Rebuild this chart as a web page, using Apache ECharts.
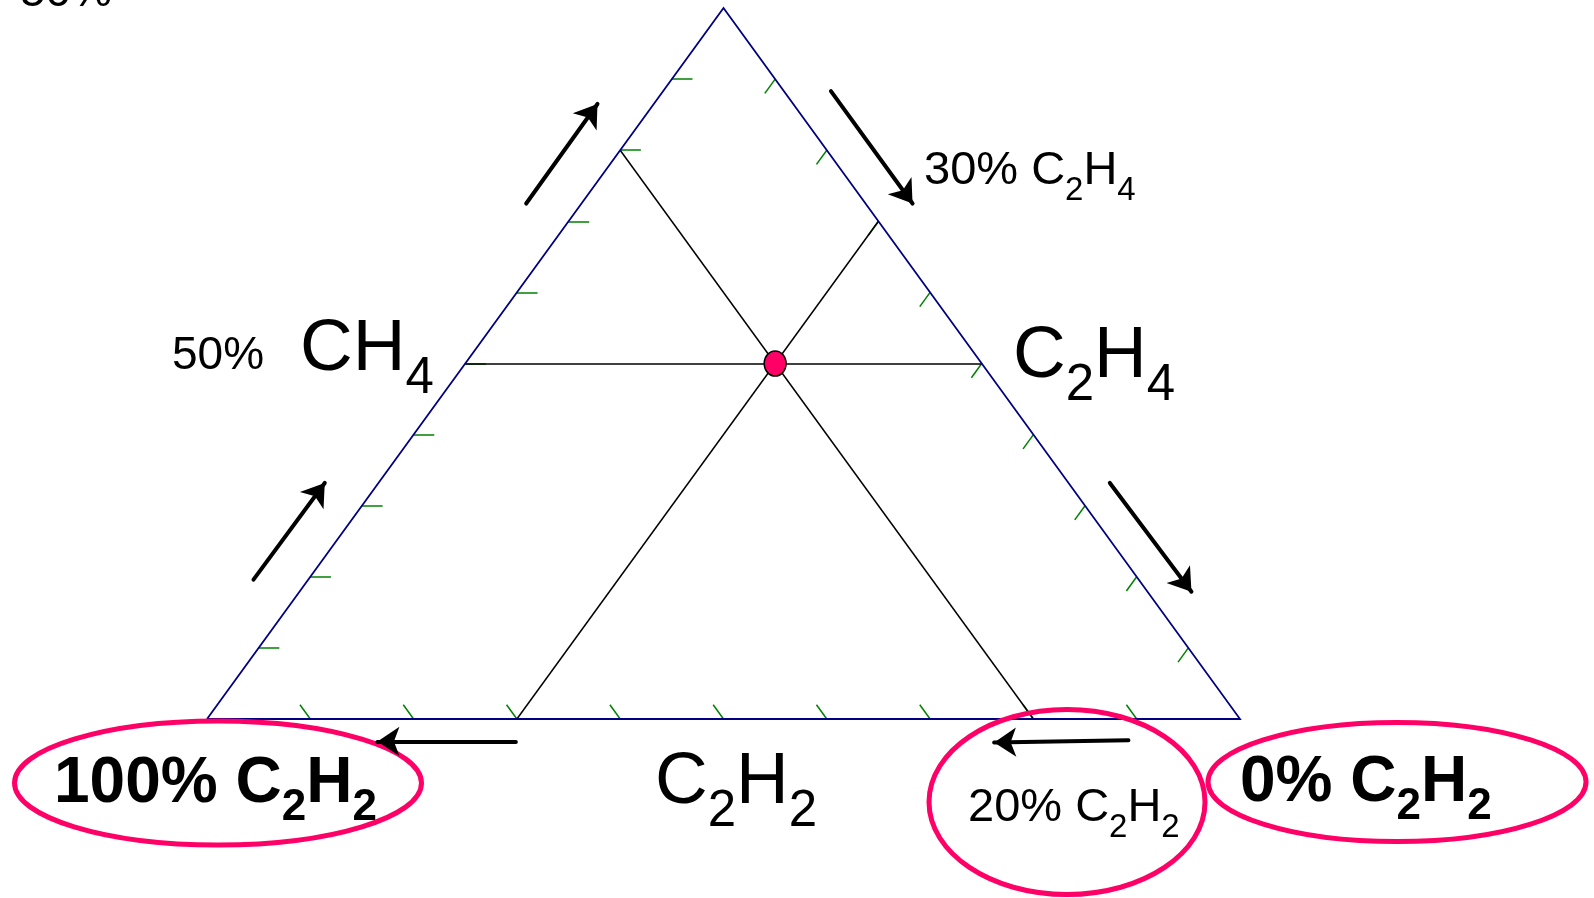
<!DOCTYPE html>
<html><head><meta charset="utf-8">
<script src="https://cdn.jsdelivr.net/npm/echarts@6/dist/echarts.min.js"></script>
<style>html,body{margin:0;padding:0;background:#fff;}#c{width:1594px;height:898px;}</style>
</head><body><div id="c"></div>
<script>
// ---------------- data ----------------
const components = ['CH4', 'C2H4', 'C2H2'];
const samplePoint = { CH4: 50, C2H4: 30, C2H2: 20 };
const tickValues = [10, 20, 30, 40, 50, 60, 70, 80, 90];
const cornerVertices = [
  { CH4: 0, C2H4: 0, C2H2: 100 },
  { CH4: 100, C2H4: 0, C2H2: 0 },
  { CH4: 0, C2H4: 100, C2H2: 0 },
  { CH4: 0, C2H4: 0, C2H2: 100 }
];
const tickLength = 2; // percent units

// ---------------- layout / style ----------------
const FONT = '"Liberation Sans", Arial, sans-serif';
const PINK = '#FF0066';
const NAVY = '#000080';
const GREEN = '#008000';

// barycentric -> cartesian (x from C2H2 corner to C2H4 corner, y = CH4)
function toXY(c) { return [c.C2H4 + c.CH4 / 2, c.CH4]; }
function comp(a, b, c) { return { CH4: a, C2H4: b, C2H2: c }; }

// inner lines through the sample point
const innerLines = [
  [comp(samplePoint.CH4, 0, 100 - samplePoint.CH4), comp(samplePoint.CH4, 100 - samplePoint.CH4, 0)],
  [comp(0, samplePoint.C2H4, 100 - samplePoint.C2H4), comp(100 - samplePoint.C2H4, samplePoint.C2H4, 0)],
  [comp(100 - samplePoint.C2H2, 0, samplePoint.C2H2), comp(0, 100 - samplePoint.C2H2, samplePoint.C2H2)]
].map(p => ({ coords: [toXY(p[0]), toXY(p[1])] }));

const ticks = [];
tickValues.forEach(v => {
  ticks.push({ coords: [toXY(comp(v, 0, 100 - v)), toXY(comp(v, tickLength, 100 - v - tickLength))] });
  ticks.push({ coords: [toXY(comp(100 - v, v, 0)), toXY(comp(100 - v - tickLength, v, tickLength))] });
  ticks.push({ coords: [toXY(comp(0, v, 100 - v)), toXY(comp(tickLength, v - tickLength, 100 - v))] });
});

// annotation arrows (in chart units)
const arrows = [
  [[30.9, 72.5], [37.8, 86.5]],
  [[4.5, 19.6], [11.4, 33.2]],
  [[60.4, 88.3], [68.3, 72.5]],
  [[87.4, 33.2], [95.3, 17.9]],
  [[29.9, -3.15], [16.5, -3.15]],
  [[89.2, -3.0], [76.2, -3.3]]
];

// ---------------- text helper ----------------
const mctx = document.createElement('canvas').getContext('2d');
function fontStr(size, bold) { return (bold ? 'bold ' : '') + size + 'px ' + FONT; }
function midOffset(size, bold) {
  mctx.font = fontStr(size, bold);
  mctx.textBaseline = 'alphabetic';
  const m = mctx.measureText('H');
  if (m.fontBoundingBoxAscent !== undefined) return (m.fontBoundingBoxAscent - m.fontBoundingBoxDescent) / 2;
  return 0.3465 * size;
}
function chemText(parts, x, baseline, size, subSize, subDrop, bold) {
  const els = [];
  let cx = x;
  parts.forEach(p => {
    const isSub = p[1];
    const s = isSub ? subSize : size;
    const f = fontStr(s, bold);
    mctx.font = f;
    const w = mctx.measureText(p[0]).width;
    const by = baseline + (isSub ? subDrop : 0);
    els.push({
      type: 'text', x: cx, y: by - midOffset(s, bold), z: 100,
      style: { text: p[0], font: f, fill: '#000', align: 'left', verticalAlign: 'middle', textAlign: 'left', textVerticalAlign: 'middle' }
    });
    cx += w;
  });
  return els;
}

const graphics = [];
[[218, 783, 203.5, 62], [1067, 802, 138, 92.5], [1397, 782, 189, 59.5]].forEach(e => {
  graphics.push({ type: 'ellipse', z: 50, shape: { cx: e[0], cy: e[1], rx: e[2], ry: e[3] },
    style: { fill: 'none', stroke: PINK, lineWidth: 5 } });
});
graphics.push(...chemText([['50%', 0]], 20, 9, 46, 33, 14, false));
graphics.push(...chemText([['50%', 0]], 172, 372, 46, 33, 14, false));
graphics.push(...chemText([['CH', 0], ['4', 1]], 300, 375, 73, 51, 21, false));
graphics.push(...chemText([['C', 0], ['2', 1], ['H', 0], ['4', 1]], 1013, 382, 73, 51, 21, false));
graphics.push(...chemText([['C', 0], ['2', 1], ['H', 0], ['2', 1]], 655, 808, 73, 51, 21, false));
graphics.push(...chemText([['30% C', 0], ['2', 1], ['H', 0], ['4', 1]], 924, 188, 47, 33, 14, false));
graphics.push(...chemText([['20% C', 0], ['2', 1], ['H', 0], ['2', 1]], 968, 825, 47, 33, 14, false));
graphics.push(...chemText([['100% C', 0], ['2', 1], ['H', 0], ['2', 1]], 54, 806, 64, 44, 17, true));
graphics.push(...chemText([['0% C', 0], ['2', 1], ['H', 0], ['2', 1]], 1240, 805, 64, 44, 17, true));

const chart = echarts.init(document.getElementById('c'), null, { renderer: 'canvas' });
chart.setOption({
  animation: false,
  backgroundColor: '#fff',
  grid: { left: 207, top: 8, width: 1033, height: 711 },
  xAxis: { type: 'value', min: 0, max: 100, show: false },
  yAxis: { type: 'value', min: 0, max: 100, show: false },
  series: [
    {
      name: 'ticks', type: 'lines', coordinateSystem: 'cartesian2d', clip: false, silent: true, z: 3,
      symbol: ['none', 'none'], lineStyle: { color: GREEN, width: 1.5, opacity: 1, curveness: 0 }, data: ticks
    },
    {
      name: 'inner', type: 'lines', coordinateSystem: 'cartesian2d', clip: false, silent: true, z: 4,
      symbol: ['none', 'none'], lineStyle: { color: '#000', width: 1.5, opacity: 1, curveness: 0 }, data: innerLines
    },
    {
      name: 'triangle', type: 'lines', coordinateSystem: 'cartesian2d', polyline: true, clip: false, silent: true, z: 5,
      symbol: ['none', 'none'], lineStyle: { color: NAVY, width: 1.8, opacity: 1 },
      data: [{ coords: cornerVertices.map(toXY) }]
    },
    {
      name: 'arrows', type: 'lines', coordinateSystem: 'cartesian2d', clip: false, silent: true, z: 60,
      symbol: ['none', 'arrow'], symbolSize: [17, 22],
      lineStyle: { color: '#000', width: 4, opacity: 1, curveness: 0, cap: 'round' },
      data: arrows.map(a => ({ coords: a }))
    },
    {
      name: 'sample', type: 'scatter', z: 70, silent: true,
      symbol: 'circle', symbolSize: [22, 25],
      itemStyle: { color: PINK, borderColor: '#000', borderWidth: 1.5, opacity: 1 },
      data: [toXY(samplePoint)]
    }
  ],
  graphic: { elements: graphics }
});
</script></body></html>
